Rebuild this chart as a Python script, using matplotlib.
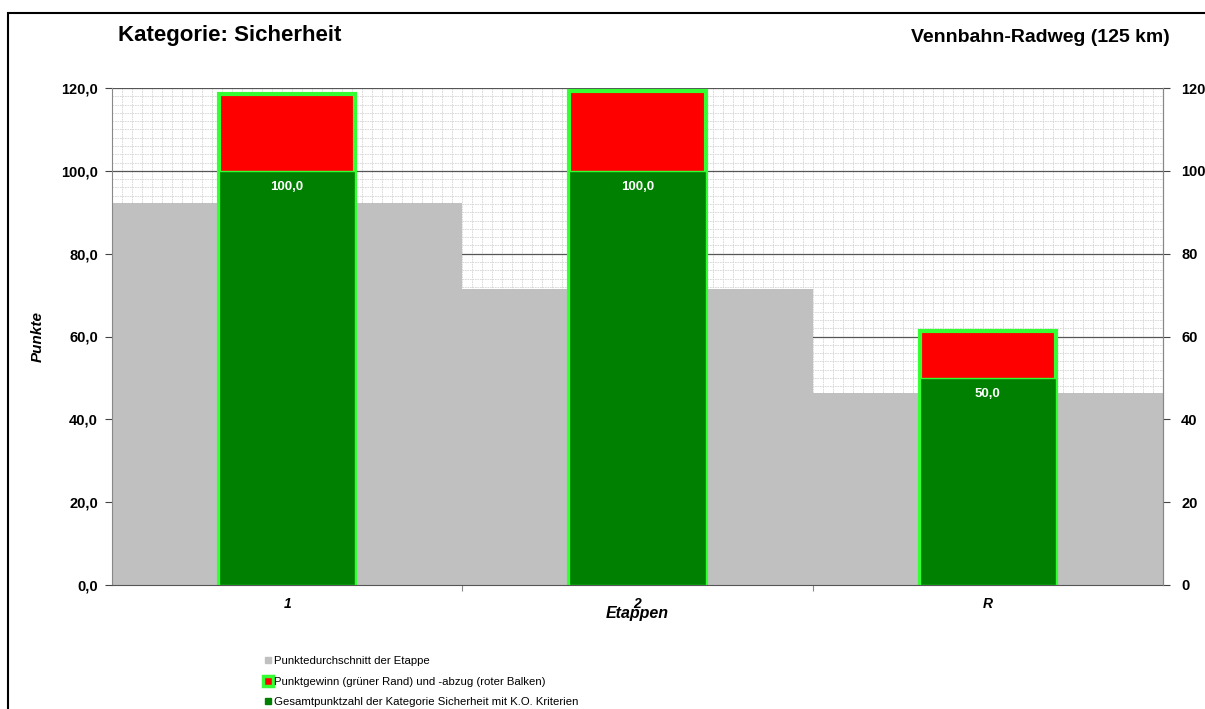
import matplotlib
matplotlib.use("Agg")
import matplotlib.pyplot as plt
import numpy as np
from matplotlib.lines import Line2D
from matplotlib.patches import Rectangle

plt.rcParams["font.family"] = ["Liberation Sans", "DejaVu Sans"]

# ---- data -------------------------------------------------------------
etappen = ["1", "2", "R"]
durchschnitt = [92.3, 71.4, 46.4]      # grey background bars
mit_gewinn = [118.6, 119.2, 61.4]      # red bar with green rim
gesamt = [100.0, 100.0, 50.0]          # dark green bars

legend_labels = [
    "Punktedurchschnitt der Etappe",
    "Punktgewinn (grüner Rand) und -abzug (roter Balken)",
    "Gesamtpunktzahl der Kategorie Sicherheit mit K.O. Kriterien",
]

GREY = "#c0c0c0"
RED = "#ff0000"
LIME = "#33ff33"
GREEN = "#008000"

fig = plt.figure(figsize=(12.05, 7.09), dpi=100)
ax = fig.add_axes([112 / 1205, 1 - 585 / 709, 1051 / 1205, 497 / 709])

x = np.arange(len(etappen))
ax.set_xlim(-0.5, len(etappen) - 0.5)
ax.set_ylim(0, 120)

# small-grid pattern in the plot area
for gx in np.arange(-0.5, len(etappen) - 0.5, 1 / 35):
    ax.axvline(gx, color="#d4d4d4", lw=0.6, ls=(0, (2, 1)), zorder=0)
for gy in np.arange(0, 120, 2):
    ax.axhline(gy, color="#d4d4d4", lw=0.6, ls=(0, (2, 1)), zorder=0)
for gy in range(20, 121, 20):
    ax.axhline(gy, color="#555555", lw=0.9, zorder=0.5)

ax.bar(x, durchschnitt, width=1.0, color=GREY, zorder=1)
ax.bar(x, mit_gewinn, width=0.39, color=RED, edgecolor=LIME, lw=3, zorder=2)
ax.bar(x, gesamt, width=0.39, color=GREEN, edgecolor=LIME, lw=1.0, zorder=3)

for xi, v in zip(x, gesamt):
    ax.text(xi, v - 2.5, f"{v:.1f}".replace(".", ","), ha="center", va="top",
            color="white", fontsize=9.5, fontweight="bold", zorder=4)

# axes styling
ax.set_yticks(range(0, 121, 20))
ax.set_yticklabels([f"{v:.1f}".replace(".", ",") for v in range(0, 121, 20)],
                   fontweight="bold", fontsize=10.5)
ax.tick_params(axis="y", length=5, color="#444444", pad=5)
ax.set_xticks([0.5, 1.5])
ax.set_xticklabels([])
ax.tick_params(axis="x", which="major", length=4, color="#888888")
ax.set_xticks(x, minor=True)
ax.set_xticklabels(etappen, minor=True, fontweight="bold", style="italic",
                   fontsize=10)
ax.tick_params(axis="x", which="minor", length=0, pad=9)
ax.spines["top"].set_visible(False)
ax.spines["left"].set_color("#888888")
ax.spines["right"].set_color("#888888")
ax.spines["bottom"].set_color("#555555")

ax.set_ylabel("Punkte", fontweight="bold", style="italic", fontsize=11,
              labelpad=12)
ax.set_xlabel("Etappen", fontweight="bold", style="italic", fontsize=11.5,
              labelpad=-4)

ax2 = ax.twinx()
ax2.set_ylim(0, 120)
ax2.set_yticks(range(0, 121, 20))
ax2.set_yticklabels([str(v) for v in range(0, 121, 20)], fontweight="bold",
                    fontsize=10.5)
ax2.tick_params(axis="y", length=5, color="#444444", pad=8)
for s in ["top", "left", "bottom"]:
    ax2.spines[s].set_visible(False)
ax2.spines["right"].set_color("#888888")

# titles
fig.text(118 / 1205, 1 - 36 / 709, "Kategorie: Sicherheit", fontsize=16,
         fontweight="bold", va="center", ha="left")
fig.text(1170 / 1205, 1 - 38 / 709, "Vennbahn-Radweg (125 km)", fontsize=14,
         fontweight="bold", va="center", ha="right")

# outer frame
fig.patches.append(Rectangle((8 / 1205, -0.01), 1.0, 1 - 13 / 709 + 0.01,
                             transform=fig.transFigure, fill=False,
                             edgecolor="black", lw=1.5))

handles = [
    Line2D([], [], ls="", marker="s", ms=5, mfc=GREY, mec=GREY),
    Line2D([], [], ls="", marker="s", ms=7, mfc=RED, mec=LIME, mew=2.5),
    Line2D([], [], ls="", marker="s", ms=5, mfc=GREEN, mec=GREEN),
]
fig.legend(handles, legend_labels, loc="upper left",
           bbox_to_anchor=(259 / 1205, 1 - 650 / 709), frameon=False,
           fontsize=8.2, handlelength=0.6, handletextpad=0.2,
           labelspacing=0.95, borderpad=0)

fig.savefig("out.png", dpi=100)
